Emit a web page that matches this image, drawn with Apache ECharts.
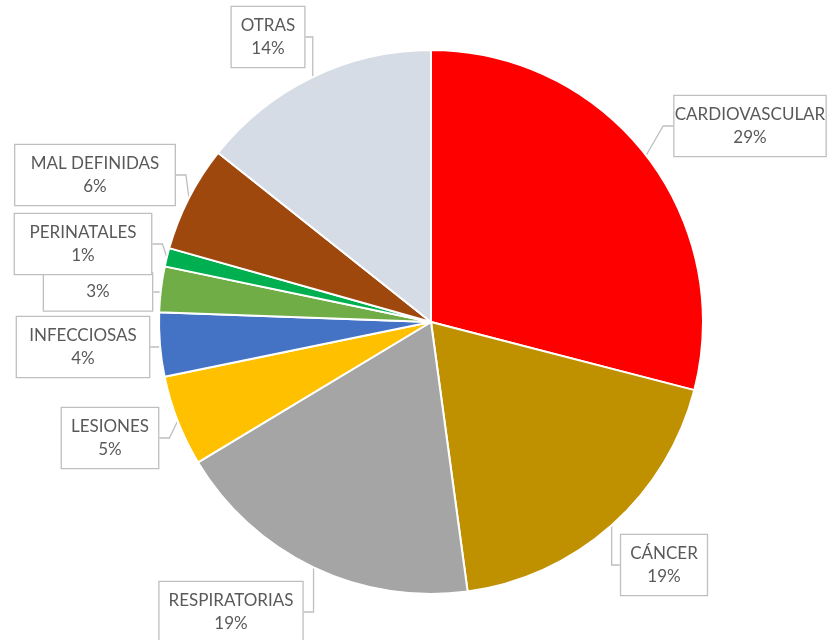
<!DOCTYPE html>
<html><head><meta charset="utf-8">
<script src="https://cdn.jsdelivr.net/npm/echarts@6/dist/echarts.min.js"></script>
<style>html,body{margin:0;padding:0;background:#fff}#c{width:830px;height:640px}</style>
</head><body><div id="c"></div>
<script>
const categories = ['CARDIOVASCULAR','CÁNCER','RESPIRATORIAS','LESIONES','INFECCIOSAS','','PERINATALES','MAL DEFINIDAS','OTRAS'];
const values = [29.0, 18.8, 18.5, 5.4, 3.8, 2.7, 1.1, 6.3, 14.3];
const colors = ['#FF0000','#BF9000','#A5A5A5','#FFC000','#4472C4','#70AD47','#00B050','#9E480E','#D6DCE5'];
// label box centres (layout)
const labelX = [750, 664, 231, 110, 83, 98, 83, 95, 268];
const labelY = [126, 565, 612, 438, 347, 292, 244, 175, 37];

const chart = echarts.init(document.getElementById('c'), null, {renderer:'canvas'});
chart.setOption({
  animation:false,
  series:[{
    type:'pie',
    center:[431,322],
    radius:272,
    startAngle:90,
    clockwise:true,
    data: categories.map((n,i)=>({name:n, value:values[i], itemStyle:{color:colors[i]},
      label: n==='' ? {width:92, padding:[7,8]} : {} })),
    itemStyle:{borderColor:'#fff', borderWidth:2},
    label:{
      show:true, position:'outside', overflow:'none',
      formatter:p=> (p.name ? p.name + '\n' : '') + Math.round(p.percent) + '%',
      fontFamily:'Lato', fontSize:17, color:'#595959', lineHeight:23,
      align:'center',
      backgroundColor:'#fff', borderColor:'#bfbfbf', borderWidth:1.3,
      padding:[7,9]
    },
    labelLine:{show:true, length:10, length2:10, lineStyle:{color:'#bfbfbf', width:1.3}},
    labelLayout:function(p){
      return {x:labelX[p.dataIndex], y:labelY[p.dataIndex], align:'center', verticalAlign:'middle'};
    },
    emphasis:{disabled:true}
  }]
});
</script></body></html>
